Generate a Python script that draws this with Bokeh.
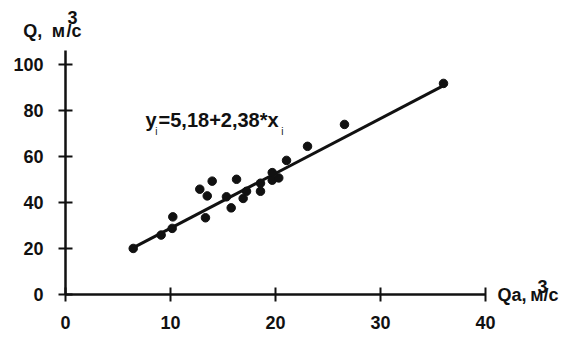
from bokeh.plotting import figure
from bokeh.models import FixedTicker, Label
from bokeh.embed import file_html
from bokeh.resources import INLINE

# Data
qa = [6.45, 9.11, 10.16, 10.22, 12.79, 13.97, 13.5, 13.33, 15.33, 15.78, 16.29,
      16.92, 17.24, 18.57, 18.57, 19.69, 19.69, 20.31, 21.05, 23.05, 26.57, 36.0]
q = [20.2, 26.0, 28.9, 33.9, 45.9, 49.4, 43.0, 33.5, 42.6, 37.8, 50.2,
     41.9, 45.0, 45.0, 48.5, 53.1, 49.8, 50.8, 58.4, 64.5, 74.0, 91.8]
intercept = 5.18
slope = 2.38
x_ticks = [0, 10, 20, 30, 40]
y_ticks = [0, 20, 40, 60, 80, 100]

FONT = "Liberation Sans"
INK = "#111111"

p = figure(width=571, height=337, output_backend="svg", toolbar_location=None,
           x_range=(-6.19, 48.19), y_range=(-18.44, 127.77),
           min_border=0)
p.background_fill_color = "white"
p.border_fill_color = "white"
p.outline_line_color = None
p.grid.visible = False

for ax in (p.xaxis[0], p.yaxis[0]):
    ax.fixed_location = 0
    ax.axis_line_width = 2.5
    ax.axis_line_color = INK
    ax.major_tick_line_width = 2
    ax.major_tick_line_color = INK
    ax.major_tick_in = 7
    ax.major_tick_out = 7
    ax.minor_tick_line_color = None
    ax.major_label_text_font = FONT
    ax.major_label_text_font_size = "18px"
    ax.major_label_text_font_style = "bold"
    ax.major_label_text_color = INK

p.xaxis[0].ticker = FixedTicker(ticks=x_ticks)
p.yaxis[0].ticker = FixedTicker(ticks=y_ticks)
p.xaxis[0].bounds = (0, 40)
p.yaxis[0].bounds = (0, 106)
p.xaxis[0].major_label_standoff = 14
p.yaxis[0].major_label_standoff = 15

# regression line
lx = [min(qa) - 0.3, max(qa)]
ly = [intercept + slope * v for v in lx]
p.line(lx, ly, line_color=INK, line_width=3)

# points
p.scatter(qa, q, size=8.5, color=INK)

def lab(x, y, text, size="18px", style="bold"):
    p.add_layout(Label(x=x, y=y, text=text, text_font=FONT, text_font_size=size,
                       text_font_style=style, text_color=INK,
                       text_baseline="middle", text_align="left"))

# equation
lab(7.62, 75.8, "y", "20px")
lab(8.55, 70.8, "i", "10px", "normal")
lab(8.86, 75.8, "=5,18+2,38*x", "20px")
lab(20.55, 70.8, "i", "10px", "normal")

# y axis title
lab(-4.03, 114.5, "Q,", "18px")
lab(-1.3, 114.5, "м", "18px")
lab(0.1, 114.5, "/с", "18px")
lab(0.19, 120.6, "3", "18px")

# x axis title
lab(41.14, 0.2, "Qa,", "18px")
lab(44.25, 0.2, "м", "18px")
lab(45.52, 0.2, "/с", "18px")
lab(44.95, 3.5, "3", "18px")

open("out.html", "w").write(file_html(p, INLINE))
